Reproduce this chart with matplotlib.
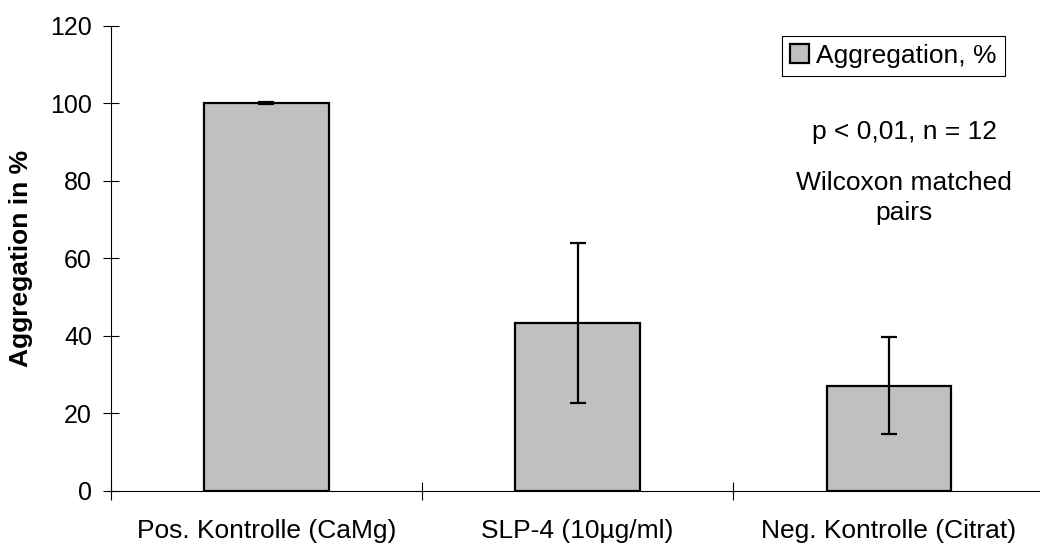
import matplotlib
matplotlib.use('Agg')
import matplotlib.pyplot as plot
from matplotlib.patches import Patch
import numpy as np

plot.rcParams['font.family'] = ['Liberation Sans', 'DejaVu Sans']

# aggregation results per condition
groups = ['Pos. Kontrolle (CaMg)', 'SLP-4 (10µg/ml)', 'Neg. Kontrolle (Citrat)']
aggregation = [100.0, 43.4, 27.2]
errors = [0.2, 20.6, 12.5]
yticks = [0, 20, 40, 60, 80, 100, 120]

fig = plot.figure(figsize=(10.4, 5.45), dpi=100)
ax = fig.add_axes([0.1064, 0.0991, 0.898, 0.8538])

x = np.arange(len(groups)) + 0.5
width = 0.40

ax.bar(x, aggregation, width, color='#c0c0c0', edgecolor='black', linewidth=1.6, zorder=2)
ax.errorbar(x, aggregation, yerr=errors, fmt='none', ecolor='black',
            elinewidth=1.6, capsize=5.8, capthick=1.6, zorder=3)

ax.set_xlim(0, len(groups))
ax.set_ylim(0, 120)

# category borders carry the ticks, names sit in the middle
ax.set_xticks(np.arange(len(groups) + 1))
ax.set_xticklabels([])
ax.set_xticks(x, minor=True)
ax.set_xticklabels(groups, minor=True, fontsize=19)
ax.tick_params(axis='x', which='major', direction='inout', length=13, width=0.8)
ax.tick_params(axis='x', which='minor', length=0, pad=20)

ax.set_yticks(yticks)
ax.set_yticklabels([str(v) for v in yticks], fontsize=18)
ax.tick_params(axis='y', direction='inout', length=11, width=0.8, pad=8)

for side in ['top', 'right']:
    ax.spines[side].set_visible(False)
for side in ['left', 'bottom']:
    ax.spines[side].set_linewidth(0.8)

ax.set_ylabel('Aggregation in %', fontsize=19, fontweight='bold')
ax.yaxis.set_label_coords(-0.083, 0.5)

handle = Patch(facecolor='#c0c0c0', edgecolor='black', linewidth=1.6)
leg = fig.legend([handle], ['Aggregation, %'], loc='upper left',
                 bbox_to_anchor=(782 / 1040, 1 - 36 / 545), fontsize=19,
                 fancybox=False, shadow=False, framealpha=1, borderpad=0.3,
                 handlelength=0.72, handleheight=0.72, handletextpad=0.28,
                 borderaxespad=0)
leg.get_frame().set_edgecolor('black')
leg.get_frame().set_linewidth(0.8)

fig.text(904 / 1040, 1 - 132 / 545, 'p < 0,01, n = 12', fontsize=19,
         ha='center', va='center')
fig.text(904 / 1040, 1 - 198 / 545, 'Wilcoxon matched\npairs', fontsize=19,
         ha='center', va='center', linespacing=1.3)

plot.savefig('out.png', dpi=100)
